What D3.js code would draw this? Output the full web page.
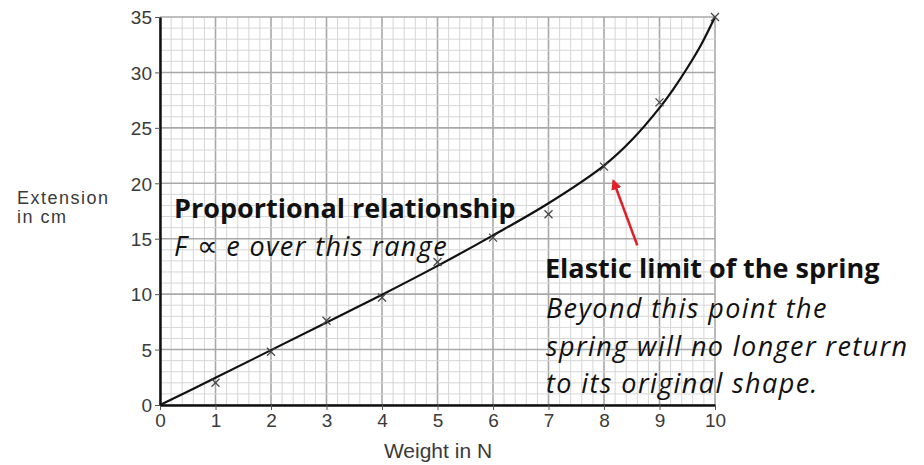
<!DOCTYPE html>
<html>
<head>
<meta charset="utf-8">
<script src="https://cdn.jsdelivr.net/npm/d3@7"></script>
<style>
body { margin: 0; background: #fff; }
svg text { font-family: "Liberation Sans", Arial, sans-serif; }
.note { font-family: "Open Sans", Lato, sans-serif; fill: #111; }
</style>
</head>
<body>
<div id="chart"></div>
<script>
// measured crosses (weight N, extension cm)
var weights = [1, 2, 3, 4, 5, 6, 7, 8, 9, 10];
var extensions = [2.0, 4.8, 7.6, 9.7, 12.9, 15.1, 17.2, 21.5, 27.3, 35.0];

// hand drawn line of best fit
var fitX = [0, 1, 2, 3, 4, 5, 6, 7, 8, 8.5, 9, 9.25, 9.5, 9.75, 10];
var fitY = [0, 2.45, 4.95, 7.45, 9.95, 12.55, 15.3, 18.2, 21.6, 23.9, 26.8, 28.5, 30.4, 32.5, 35];

var xTicks = [0, 1, 2, 3, 4, 5, 6, 7, 8, 9, 10];
var yTicks = [0, 5, 10, 15, 20, 25, 30, 35];

var margin = {top: 17, right: 209, bottom: 60, left: 160},
    width = 924 - margin.left - margin.right,
    height = 465 - margin.top - margin.bottom;

var svg = d3.select("#chart")
    .append("svg")
    .attr("width", 924)
    .attr("height", 465)
    .append("g")
    .attr("transform", "translate(" + margin.left + "," + margin.top + ")");

var xScale = d3.scaleLinear().domain([0, 10]).range([0, width]);
var yScale = d3.scaleLinear().domain([0, 35]).range([height, 0]);

// graph paper
var minorX = d3.range(0, 50.5, 1).map(function(d) { return d / 5; });
var minorY = d3.range(0, 35.5, 1);

svg.selectAll(".vminor")
    .data(minorX)
    .enter()
    .append("line")
    .attr("x1", function(d) { return xScale(d); })
    .attr("x2", function(d) { return xScale(d); })
    .attr("y1", 0)
    .attr("y2", height)
    .attr("stroke", function(d) { return Math.abs(d - Math.round(d)) < 1e-6 ? "#a8a8a8" : "#d6d6d6"; })
    .attr("stroke-width", function(d) { return Math.abs(d - Math.round(d)) < 1e-6 ? 1.6 : 1; });

svg.selectAll(".hminor")
    .data(minorY)
    .enter()
    .append("line")
    .attr("x1", 0)
    .attr("x2", width)
    .attr("y1", function(d) { return yScale(d); })
    .attr("y2", function(d) { return yScale(d); })
    .attr("stroke", function(d) { return d % 5 == 0 ? "#a8a8a8" : "#d6d6d6"; })
    .attr("stroke-width", function(d) { return d % 5 == 0 ? 1.6 : 1; });

// axes
var xAxis = svg.append("g")
    .attr("transform", "translate(0," + height + ")")
    .call(d3.axisBottom(xScale).tickValues(xTicks).tickSize(5).tickSizeOuter(0).tickPadding(4));
var yAxis = svg.append("g")
    .call(d3.axisLeft(yScale).tickValues(yTicks).tickSize(5).tickSizeOuter(0).tickPadding(3));

[xAxis, yAxis].forEach(function(ax) {
    ax.select(".domain").attr("stroke", "#111").attr("stroke-width", 2.5);
    ax.selectAll(".tick line").attr("stroke", "#555");
    ax.selectAll("text")
        .style("font-family", "'Liberation Sans', Arial, sans-serif")
        .style("font-size", "19px")
        .attr("fill", "#3a3a3a");
});
yAxis.selectAll(".tick text").attr("dy", "0.36em");

// line of best fit
var fit = fitX.map(function(d, i) { return [d, fitY[i]]; });
svg.append("path")
    .datum(fit)
    .attr("fill", "none")
    .attr("stroke", "#111")
    .attr("stroke-width", 2.2)
    .attr("d", d3.line()
        .x(function(d) { return xScale(d[0]); })
        .y(function(d) { return yScale(d[1]); })
        .curve(d3.curveCatmullRom));

// crosses
var pts = weights.map(function(d, i) { return {w: d, e: extensions[i]}; });
var cross = svg.selectAll(".cross")
    .data(pts)
    .enter()
    .append("g")
    .attr("transform", function(d) { return "translate(" + xScale(d.w) + "," + yScale(d.e) + ")"; });
cross.append("line").attr("x1", -4).attr("y1", -4).attr("x2", 4).attr("y2", 4);
cross.append("line").attr("x1", -4).attr("y1", 4).attr("x2", 4).attr("y2", -4);
cross.selectAll("line").attr("stroke", "#444").attr("stroke-width", 1.3);

// axis titles
var root = d3.select("#chart svg");
root.append("text")
    .attr("x", 438).attr("y", 458)
    .attr("text-anchor", "middle")
    .style("font-size", "21px")
    .attr("fill", "#3a3a3a")
    .text("Weight in N");
root.append("text")
    .attr("x", 17).attr("y", 204)
    .style("font-size", "18px").style("letter-spacing", "1.5px")
    .attr("fill", "#3a3a3a")
    .text("Extension");
root.append("text")
    .attr("x", 17).attr("y", 223)
    .style("font-size", "18px").style("letter-spacing", "1.5px")
    .attr("fill", "#3a3a3a")
    .text("in cm");

// annotations
root.append("text").attr("class", "note")
    .attr("x", 174).attr("y", 218)
    .style("font-size", "27px").style("font-weight", "bold")
    .text("Proportional relationship");
var prop = root.append("text").attr("class", "note")
    .attr("x", 174).attr("y", 256)
    .style("font-size", "27px").style("font-style", "italic").style("letter-spacing", "1.4px");
prop.append("tspan").text("F ");
prop.append("tspan").style("font-size", "29px").style("font-style", "normal").style("letter-spacing", "0px").text("\u221D");
prop.append("tspan").text(" e over this range");

root.append("text").attr("class", "note")
    .attr("x", 545).attr("y", 278)
    .style("font-size", "27px").style("font-weight", "bold")
    .text("Elastic limit of the spring");
var lines = ["Beyond this point the", "spring will no longer return", "to its original shape."];
root.selectAll(".ital")
    .data(lines)
    .enter()
    .append("text").attr("class", "note")
    .attr("x", 546)
    .attr("y", function(d, i) { return 318 + i * 37.5; })
    .style("font-size", "27px").style("font-style", "italic").style("letter-spacing", "1.4px")
    .text(function(d) { return d; });

// red arrow to elastic limit
root.append("defs").append("marker")
    .attr("id", "head")
    .attr("viewBox", "0 0 10 10")
    .attr("refX", 8).attr("refY", 5)
    .attr("markerWidth", 4).attr("markerHeight", 4)
    .attr("orient", "auto")
    .append("path").attr("d", "M0,0L10,5L0,10z").attr("fill", "#e0202a");
svg.append("line")
    .attr("x1", xScale(8.6)).attr("y1", yScale(14.4))
    .attr("x2", xScale(8.17)).attr("y2", yScale(20.2))
    .attr("stroke", "#e0202a")
    .attr("stroke-width", 2.6)
    .attr("marker-end", "url(#head)");
</script>
</body>
</html>
